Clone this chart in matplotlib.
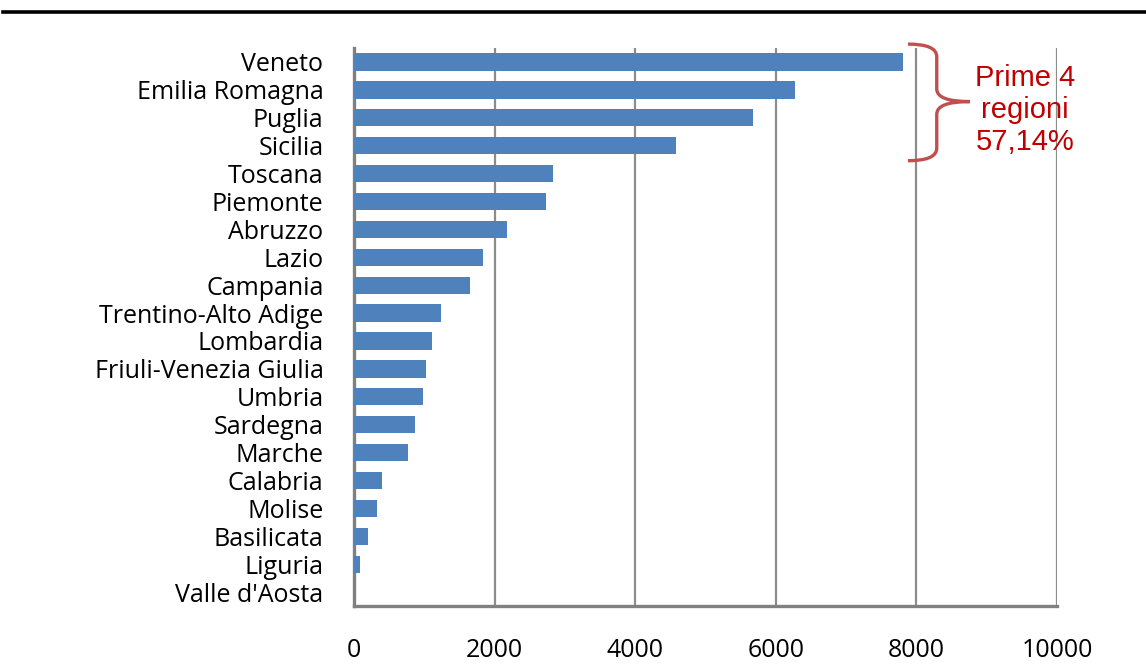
import matplotlib
matplotlib.use("Agg")
import matplotlib.pyplot as plt
from matplotlib.path import Path
from matplotlib.patches import PathPatch
from matplotlib.lines import Line2D

# Regions ordered top to bottom, with their totals
regioni = ["Veneto", "Emilia Romagna", "Puglia", "Sicilia", "Toscana", "Piemonte",
           "Abruzzo", "Lazio", "Campania", "Trentino-Alto Adige", "Lombardia",
           "Friuli-Venezia Giulia", "Umbria", "Sardegna", "Marche", "Calabria",
           "Molise", "Basilicata", "Liguria", "Valle d'Aosta"]
valori = [7810, 6270, 5675, 4575, 2830, 2730, 2175, 1835, 1650, 1240,
          1110, 1025, 980, 870, 770, 400, 330, 200, 85, 0]
x_ticks = [0, 2000, 4000, 6000, 8000, 10000]
nota = "Prime 4\nregioni\n57,14%"

fig = plt.figure(figsize=(11.46, 6.64), dpi=100)
ax = fig.add_axes([0.3089, 0.0873, 0.6134, 0.8404])

pos = list(range(len(regioni)))
ax.barh(pos, valori, height=0.62, color="#4F81BD", zorder=3)

ax.set_ylim(len(regioni) - 0.5, -0.5)
ax.set_xlim(0, 10000)
ax.set_yticks(pos)
ax.set_yticklabels(regioni, fontsize=18, family="Open Sans")
ax.set_xticks(x_ticks)
ax.set_xticklabels([str(t) for t in x_ticks], fontsize=18, family="Open Sans")
ax.tick_params(axis="y", length=0, pad=22)
ax.tick_params(axis="x", length=0, pad=23)

ax.grid(axis="x", color="#8C8C8C", linewidth=1.6, zorder=0)
for side in ["top", "right"]:
    ax.spines[side].set_visible(False)
ax.spines["left"].set_color("#808080")
ax.spines["left"].set_linewidth(2.4)
ax.spines["bottom"].set_color("#808080")
ax.spines["bottom"].set_linewidth(2.4)

# Curly brace next to the first four regions
x0, xm, xt = 7880, 8290, 8760
yt, ymid, yb = -0.64, 1.42, 3.54
r = 0.45
verts = [(x0, yt), (xm, yt), (xm, yt + r),
         (xm, ymid - r),
         (xm, ymid), (xt, ymid),
         (xm, ymid), (xm, ymid + r),
         (xm, yb - r),
         (xm, yb), (x0, yb)]
codes = [Path.MOVETO, Path.CURVE3, Path.CURVE3,
         Path.LINETO,
         Path.CURVE3, Path.CURVE3,
         Path.CURVE3, Path.CURVE3,
         Path.LINETO,
         Path.CURVE3, Path.CURVE3]
brace = PathPatch(Path(verts, codes), facecolor="none", edgecolor="#C0504D",
                  linewidth=2.4, clip_on=False, zorder=4)
ax.add_patch(brace)

ax.text(9545, 1.72, nota, ha="center", va="center", fontsize=21,
        family="Liberation Sans", color="#C00000", linespacing=1.2,
        clip_on=False, zorder=5)

# Black rule across the top of the page
fig.add_artist(Line2D([0.003, 1.0], [0.982, 0.982], color="black",
                      linewidth=2.6, transform=fig.transFigure))

fig.savefig("out.png", dpi=100, facecolor="white")
